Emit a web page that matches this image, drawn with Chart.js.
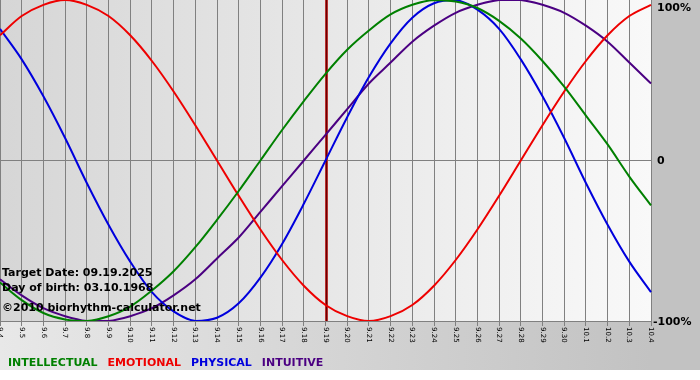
<!DOCTYPE html>
<html>
<head>
<meta charset="utf-8">
<script src="https://cdn.jsdelivr.net/npm/chart.js@4/dist/chart.umd.min.js"></script>
<style>
  html, body { margin: 0; padding: 0; background: #fff; }
  #wrap { width: 700px; height: 380px; }
</style>
</head>
<body>
<div id="wrap"><canvas id="bio" width="700" height="380"></canvas></div>
<script>
// days shown on the x axis
const days = ['9.4','9.5','9.6','9.7','9.8','9.9','9.10','9.11','9.12','9.13','9.14','9.15','9.16','9.17','9.18',
  '9.19','9.20','9.21','9.22','9.23','9.24','9.25','9.26','9.27','9.28','9.29','9.30','10.1','10.2','10.3','10.4'];

// curve values in percent
const intellectual = [-76,-87,-95,-99,-100,-97,-91,-81,-69,-54,-37,-19,0,19,37,54,69,81,91,97,100,99,95,87,76,62,46,28,10,-10,-28];
const emotional = [78,90,97,100,97,90,78,62,43,22,0,-22,-43,-62,-78,-90,-97,-100,-97,-90,-78,-62,-43,-22,0,22,43,62,78,90,97];
const physical = [82,63,40,14,-14,-40,-63,-82,-94,-100,-98,-89,-73,-52,-27,0,27,52,73,89,98,100,94,82,63,40,14,-14,-40,-63,-82];
const intuitive = [-74,-84,-92,-97,-100,-100,-97,-92,-84,-74,-61,-48,-32,-16,0,16,32,48,61,74,84,92,97,100,100,97,92,84,74,61,48];

const yTicks = [100, 0, -100];
const targetDay = '9.19';
const infoLines = ['Target Date: 09.19.2025', 'Day of birth: 03.10.1968', '\u00a92010 biorhythm-calculator.net'];

const boldFont = 'bold 11px "DejaVu Sans"';

// backgrounds, target line and all the texts
const decor = {
  id: 'decor',
  beforeDraw(chart) {
    const { ctx, chartArea: a } = chart;
    ctx.save();
    let g = ctx.createLinearGradient(0, 0, a.right, 0);
    g.addColorStop(0, '#e8e8e8');
    g.addColorStop(1, '#c2c2c2');
    ctx.fillStyle = g;
    ctx.fillRect(0, 0, a.right, 370);
    ctx.fillStyle = '#c2c2c2';
    ctx.fillRect(a.right, 0, chart.width - a.right, 370);
    g = ctx.createLinearGradient(a.left, 0, a.right, 0);
    g.addColorStop(0, '#d6d6d6');
    g.addColorStop(1, '#f9f9f9');
    ctx.fillStyle = g;
    ctx.fillRect(a.left, a.top, a.width, a.height);
    ctx.restore();
  },
  beforeDatasetsDraw(chart) {
    const { ctx, chartArea: a } = chart;
    const x = Math.round(chart.scales.x.getPixelForValue(days.indexOf(targetDay)));
    ctx.save();
    ctx.fillStyle = '#b83030';
    ctx.fillRect(x - 1, a.top, 3, a.height);
    ctx.fillStyle = '#6a0000';
    ctx.fillRect(x, a.top, 1, a.height);
    ctx.restore();
  },
  afterDraw(chart) {
    const { ctx, chartArea: a } = chart;
    const xs = chart.scales.x, ys = chart.scales.y;
    ctx.save();

    // day labels, turned clockwise
    ctx.font = '7px "DejaVu Sans"';
    ctx.fillStyle = '#000';
    ctx.textAlign = 'left';
    ctx.textBaseline = 'middle';
    days.forEach((d, i) => {
      ctx.save();
      ctx.translate(xs.getPixelForTick(i), a.bottom + 6);
      ctx.rotate(Math.PI / 2);
      ctx.fillText(d, 0, 0);
      ctx.restore();
    });

    // percent labels on the right
    ctx.font = boldFont;
    ctx.fillStyle = '#000';
    yTicks.forEach(v => {
      const y = Math.max(ys.getPixelForValue(v), a.top + 7);
      const txt = v === 0 ? '0' : v + '%';
      ctx.fillText(txt, v < 0 ? a.right + 2 : a.right + 6, y + 1);
    });

    // target / birth info
    ctx.textBaseline = 'alphabetic';
    const base = [276, 291, 311];
    infoLines.forEach((t, i) => ctx.fillText(t, 2, base[i]));

    // coloured legend words
    let x = 8;
    chart.data.datasets.forEach(ds => {
      ctx.fillStyle = ds.borderColor;
      ctx.fillText(ds.label, x, 366);
      x += ctx.measureText(ds.label).width + 10;
    });
    ctx.restore();
  }
};

new Chart(document.getElementById('bio').getContext('2d'), {
  type: 'line',
  data: {
    labels: days,
    datasets: [
      { label: 'INTELLECTUAL', data: intellectual, borderColor: '#008000' },
      { label: 'EMOTIONAL', data: emotional, borderColor: '#ee0000' },
      { label: 'PHYSICAL', data: physical, borderColor: '#0000dd' },
      { label: 'INTUITIVE', data: intuitive, borderColor: '#4b0082' }
    ]
  },
  options: {
    responsive: false,
    animation: false,
    devicePixelRatio: 1,
    layout: { padding: { left: 0, top: 0, right: 49, bottom: 54 } },
    elements: {
      line: { borderWidth: 2, tension: 0.33, fill: false },
      point: { radius: 0, hoverRadius: 0 }
    },
    plugins: { legend: { display: false }, tooltip: { enabled: false } },
    scales: {
      x: {
        offset: false,
        ticks: { display: false },
        grid: { color: '#808080', lineWidth: 1, drawTicks: true, tickLength: 5 },
        border: { display: true, color: '#808080' }
      },
      y: {
        min: -100,
        max: 100,
        ticks: { display: false, stepSize: 100 },
        grid: {
          drawTicks: false,
          color: c => (c.tick && c.tick.value === 0 ? '#808080' : 'rgba(0,0,0,0)')
        },
        border: { display: false }
      }
    }
  },
  plugins: [decor]
});
</script>
</body>
</html>
